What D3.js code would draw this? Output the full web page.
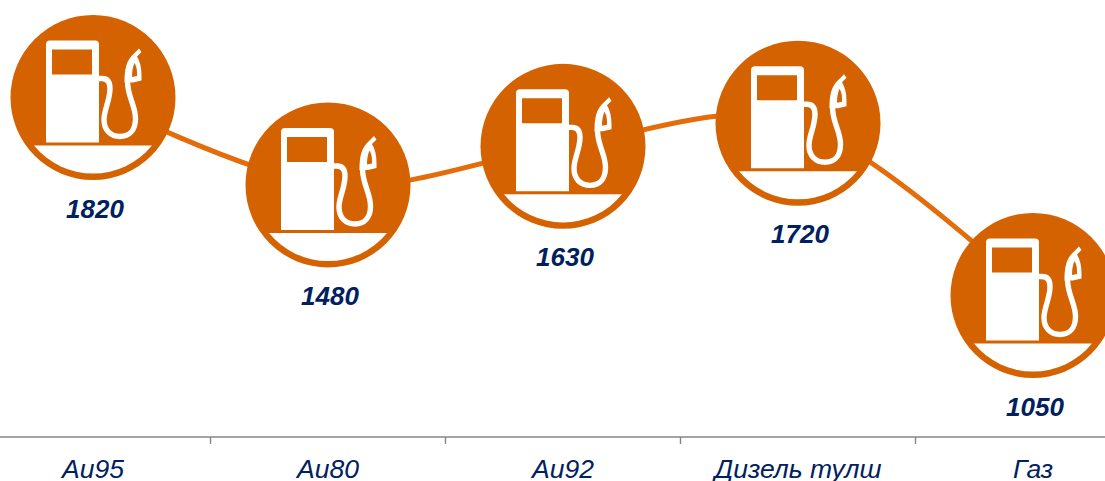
<!DOCTYPE html>
<html><head><meta charset="utf-8">
<script src="https://cdn.jsdelivr.net/npm/d3@7/dist/d3.min.js"></script>
<style>html,body{margin:0;padding:0;background:#fff;overflow:hidden}svg{display:block}text{font-family:"Liberation Sans",Arial,sans-serif;font-style:italic;fill:#002060}</style>
</head><body><svg id="c" width="1105" height="481"></svg>
<script>
const categories=["Аи95","Аи80","Аи92","Дизель тулш","Газ"];
const values=[1820,1480,1630,1720,1050];
const orange="#D56200", line="#E46C0A", axisCol="#868686";
const svg=d3.select("#c");
const x=d3.scaleBand().domain(categories).range([-24.5,1150.5]);
const y=d3.scaleLinear().domain([1050,1820]).range([295.5,97.5]);
const cx=c=>x(c)+x.bandwidth()/2;
const pts=categories.map((c,i)=>({c,v:values[i]}));
const ax=svg.append("g").attr("transform","translate(0,437)");
ax.append("line").attr("x1",0).attr("x2",1105).attr("stroke",axisCol).attr("stroke-width",1.6);
ax.selectAll("line.t").data(categories.slice(1)).enter().append("line").attr("class","t")
 .attr("x1",c=>x(c)).attr("x2",c=>x(c)).attr("y1",0).attr("y2",7).attr("stroke",axisCol).attr("stroke-width",1.4);
svg.selectAll("text.cat").data(categories).enter().append("text").attr("class","cat")
 .attr("x",cx).attr("y",478).attr("text-anchor","middle").attr("font-size",26.5).text(d=>d);
svg.append("path").datum(pts).attr("fill","none").attr("stroke",line).attr("stroke-width",5)
 .attr("d",d3.line().x(d=>cx(d.c)).y(d=>y(d.v)).curve(d3.curveCardinal.tension(0)));
const g=svg.selectAll("g.m").data(pts).enter().append("g").attr("class","m")
 .attr("transform",d=>`translate(${cx(d.c)},${y(d.v)})`);
g.append("circle").attr("r",82.5).attr("fill",orange);
g.append("path").attr("fill","#fff").attr("d","M-59,48H59A76,76 0 0 1 -59,48Z");
g.append("path").attr("fill","#fff").attr("fill-rule","evenodd")
 .attr("d","M-47,45V-53Q-47,-57 -43,-57H2Q6,-57 6,-53V45ZM-41,-48V-23H-1V-48Z");
g.append("path").attr("fill","none").attr("stroke","#fff").attr("stroke-width",5.4)
 .attr("d","M6,-19H9Q17,-19 17,-9C17,3 11,12 11,22C11,33 18,39 27,39C36,39 42.5,33 42.5,21C42.5,8 34.5,-1 34.5,-16");
g.append("path").attr("fill","#fff").attr("fill-rule","evenodd")
 .attr("d","M31.5,-15C31.5,-28 33,-37 41,-44L46,-49L48.5,-45.5L44,-41C47,-36 48.5,-30 48.5,-22V-17L40,-15ZM39,-20.5L44,-21.5V-25C44,-29 43,-32 41.5,-34.5C40,-31 39,-27 39,-20.5Z");
svg.selectAll("text.val").data(pts).enter().append("text").attr("class","val")
 .attr("x",d=>cx(d.c)+2).attr("y",d=>y(d.v)+120).attr("text-anchor","middle")
 .attr("font-size",26).attr("font-weight","bold").text(d=>d.v);
</script></body></html>
